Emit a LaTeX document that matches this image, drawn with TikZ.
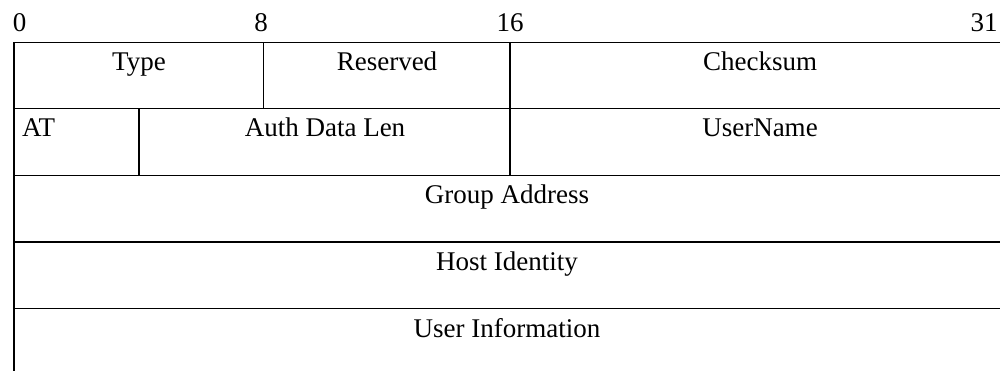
\documentclass[tikz,border=0pt]{standalone}
\usepackage{fontspec}
\setmainfont{Liberation Serif}
\begin{document}
\begin{tikzpicture}[x=1pt,y=-1pt,
  rule/.style={line width=1.6pt,black},
  field/.style={anchor=base,inner sep=0pt,font=\fontsize{27}{30}\selectfont},
  bitno/.style={anchor=base,inner sep=0pt,font=\fontsize{27}{30}\selectfont}]
  \useasboundingbox (0,0) rectangle (1000,371);
  % bit numbers
  \node[bitno] (b0) at (19.5,32) {0};
  \node[bitno] (b8) at (261,32) {8};
  \node[bitno] (b16) at (510,32) {16};
  \node[bitno] (b31) at (984,32) {31};
  % horizontal rules of the header rows
  \foreach \y in {42.5,108.5,175.5,242,308.5}
    \draw[rule] (14,\y) -- (1000,\y);
  % left border, open at the bottom
  \draw[rule] (14,42.5) -- (14,371);
  % field dividers
  \draw[rule] (263.3,42.5) -- (263.3,108.5);
  \draw[rule] (510,42.5) -- (510,175.5);
  \draw[rule] (138.7,108.5) -- (138.7,175.5);
  % field labels
  \node[field] (type) at (139,71) {Type};
  \node[field] (res) at (387,71) {Reserved};
  \node[field] (chk) at (760,71) {Checksum};
  \node[field,anchor=base west] (at) at (22,137) {AT};
  \node[field] (adl) at (325,137) {Auth Data Len};
  \node[field] (user) at (760,137) {UserName};
  \node[field] (grp) at (507,204) {Group Address};
  \node[field] (host) at (507,270.5) {Host Identity};
  \node[field] (info) at (507,337) {User Information};
\end{tikzpicture}
\end{document}
